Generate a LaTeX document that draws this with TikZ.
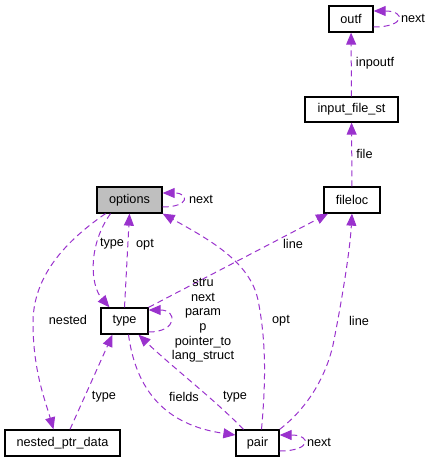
\documentclass[tikz,border=0pt]{standalone}
\usepackage{fontspec}
\setmainfont{Liberation Sans}
\usetikzlibrary{arrows.meta,calc}
\definecolor{edgecol}{HTML}{9A32CD}
\definecolor{optfill}{HTML}{BFBFBF}
\begin{document}
\begin{tikzpicture}[x=1bp,y=-1bp,
  box/.style={draw=black, line width=1.3bp, fill=white, inner sep=0pt, minimum height=26bp, font=\fontsize{12.7bp}{14.6bp}\selectfont},
  lbl/.style={inner sep=0pt, align=center, font=\fontsize{12.7bp}{14.6bp}\selectfont},
  edge/.style={draw=edgecol, line width=1bp, dash pattern=on 6bp off 4bp, -{Triangle[length=12bp,width=10bp]}},
]
\useasboundingbox (0,0) rectangle (432,461);

% nodes
\node[box, minimum width=44bp] (outf) at (351,19) {outf};
\node[box, minimum width=93bp, minimum height=25bp] (input_file_st) at (351.5,109.5) {input\_file\_st};
\node[box, minimum width=56bp] (fileloc) at (352,200) {fileloc};
\node[box, fill=optfill, minimum width=65bp] (options) at (129.5,200) {options};
\node[box, minimum width=47bp] (type) at (124.5,321) {type};
\node[box, minimum width=115bp] (nested_ptr_data) at (62.5,443) {nested\_ptr\_data};
\node[box, minimum width=43bp] (pair) at (257.5,443) {pair};

% edges
\draw[edge] ([yshift=-8bp]outf.east) .. controls +(32bp,0) and +(32bp,0) .. ([yshift=8bp]outf.east);
\draw[edge] (input_file_st) -- (outf);
\draw[edge] (fileloc) -- (input_file_st);
\draw[edge] ([yshift=-7bp]options.east) .. controls +(27bp,0) and +(27bp,0) .. ([yshift=7bp]options.east);
\draw[edge] ([xshift=-19bp]options.south) .. controls (88,245) and (90,285) .. ([xshift=-15bp]type.north);
\draw[edge] (type.north) -- (options.south);
\draw[edge] ([xshift=-24bp]options.south) .. controls (60,245) and (33,280) .. (33,323) .. controls (33,370) and (45,400) .. ([xshift=-9bp]nested_ptr_data.north);
\draw[edge] ([xshift=7.5bp]nested_ptr_data.north) -- ([xshift=-12bp]type.south);
\draw[edge] ([yshift=-11bp]type.east) .. controls +(29bp,0) and +(29bp,0) .. ([yshift=11bp]type.east);
\draw[edge] (type.north east) -- ([xshift=-24bp]fileloc.south);
\draw[edge] ([xshift=4bp]pair.north) .. controls (266,380) and (266,340) .. (258,300) .. controls (250,262) and (210,240) .. (options.south east);
\draw[edge] (pair.north east) .. controls (305,410) and (325,380) .. (333,345) .. controls (342,300) and (350,250) .. (fileloc.south);
\draw[edge] ([xshift=4bp]type.south) .. controls (136,390) and (165,425) .. ([yshift=8bp]pair.west);
\draw[edge] ([xshift=-14bp]pair.north) .. controls (215,400) and (170,365) .. ([xshift=14bp]type.south);
\draw[edge] ([yshift=-8bp]pair.east) .. controls +(32bp,0) and +(32bp,0) .. ([yshift=8bp]pair.east);

% labels
\node[lbl] (l_outf_next) at (413,18) {next};
\node[lbl] (l_inpoutf) at (375,63) {inpoutf};
\node[lbl] (l_file) at (364.5,154) {file};
\node[lbl] (l_opt_next) at (201,199) {next};
\node[lbl] (l_type1) at (112,244) {type};
\node[lbl] (l_opt1) at (145,245) {opt};
\node[lbl] (l_line1) at (293,244) {line};
\node[lbl] (l_nested) at (68,320) {nested};
\node[lbl] (l_typeloop) at (203,320.5) {stru\\next\\param\\p\\pointer\_to\\lang\_struct};
\node[lbl] (l_opt2) at (281,321) {opt};
\node[lbl] (l_line2) at (359,321) {line};
\node[lbl] (l_type2) at (104,397) {type};
\node[lbl] (l_fields) at (184,397) {fields};
\node[lbl] (l_type3) at (235,397) {type};
\node[lbl] (l_pair_next) at (319,442) {next};
\end{tikzpicture}
\end{document}
